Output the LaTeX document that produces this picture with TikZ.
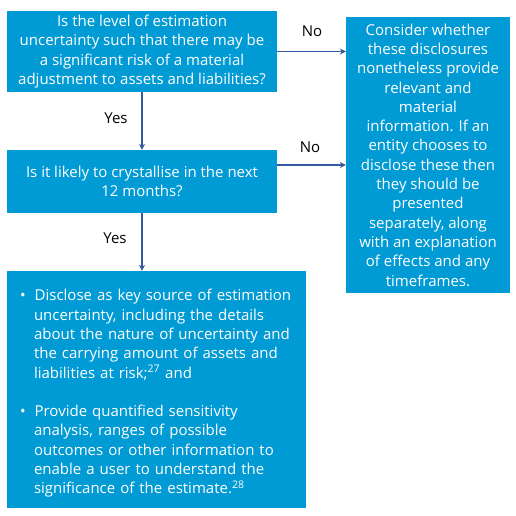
\documentclass[tikz,border=0pt]{standalone}
\usepackage{fontspec}
\setmainfont{Open Sans}
\usepackage{tikz}
\usetikzlibrary{arrows.meta}
\definecolor{boxblue}{RGB}{0,154,212}
\definecolor{arrblue}{RGB}{50,92,158}
\tikzset{
  qbox/.style={fill=boxblue,text=white,inner sep=0pt,align=center,font=\fontsize{15}{19.3}\selectfont},
  arr/.style={draw=arrblue,line width=1.3pt,-{Stealth[length=6pt,width=6pt]}},
  lbl/.style={inner sep=0pt,font=\fontsize{15}{19.3}\selectfont}
}

\begin{document}
\begin{tikzpicture}[x=1pt,y=-1pt]
\useasboundingbox (0,0) rectangle (516,515);
\node[qbox,minimum width=270pt,minimum height=81pt] (lvl) at (142,51.5) {Is the level of estimation\\uncertainty such that there may be\\a significant risk of a material\\adjustment to assets and liabilities?};
\node[qbox,minimum width=270pt,minimum height=63pt] (q12) at (142,181.5) {Is it likely to crystallise in the next\\12 months?};
\node[qbox,minimum width=164pt,minimum height=276pt] (cons) at (428,155) {Consider whether\\these disclosures\\nonetheless provide\\relevant and\\material\\information. If an\\entity chooses to\\disclose these then\\they should be\\presented\\separately, along\\with an explanation\\of effects and any\\timeframes.};
\node[qbox,minimum width=299pt,minimum height=237pt,text width=285pt,inner xsep=7pt,align=left] (disc) at (156.5,389.5) {\begin{list}{\textbullet}{\setlength{\leftmargin}{20pt}\setlength{\labelwidth}{5pt}\setlength{\labelsep}{9pt}\setlength{\topsep}{0pt}\setlength{\partopsep}{0pt}\setlength{\parsep}{0pt}\setlength{\itemsep}{19.3pt}}
\item Disclose as key source of estimation\\uncertainty, including the details\\about the nature of uncertainty and\\the carrying amount of assets and\\liabilities at risk;\textsuperscript{27} and
\item Provide quantified sensitivity\\analysis, ranges of possible\\outcomes or other information to\\enable a user to understand the\\significance of the estimate.\textsuperscript{28}
\end{list}};
\draw[arr] (lvl.east) -- (lvl.east -| cons.west);
\draw[arr] ([yshift=16.5pt]q12.east) -- ([yshift=16.5pt]q12.east -| cons.west);
\draw[arr] (lvl) -- (q12);
\draw[arr] (q12.south) -- (q12.south |- disc.north);
\node[lbl] (no1) at (312,31) {No};
\node[lbl] (no2) at (310,147) {No};
\node[lbl] (yes1) at (116,118) {Yes};
\node[lbl] (yes2) at (115,238) {Yes};
\end{tikzpicture}
\end{document}
